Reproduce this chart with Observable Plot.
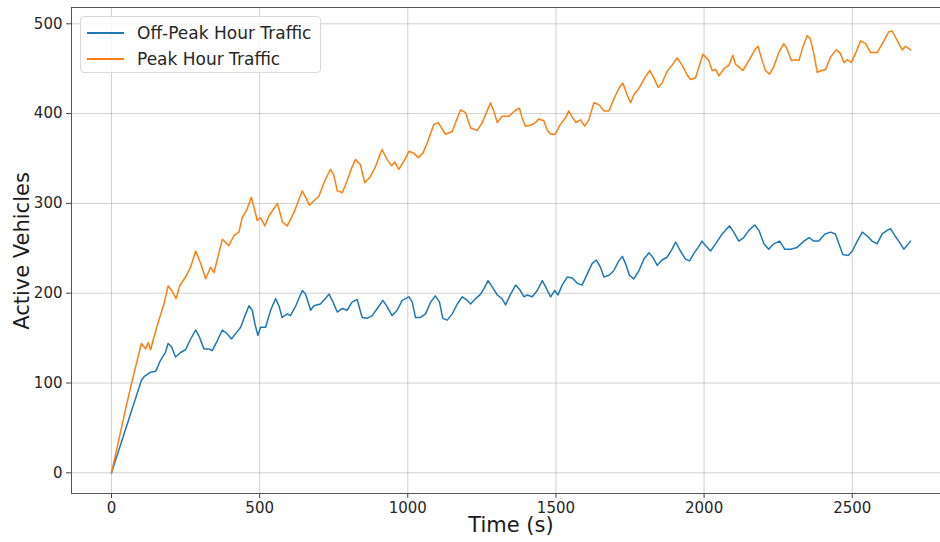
<!DOCTYPE html>
<html><head><meta charset="utf-8">
<script src="https://cdn.jsdelivr.net/npm/d3@7"></script>
<script src="https://cdn.jsdelivr.net/npm/@observablehq/plot@0.6"></script>
<style>
html,body{margin:0;padding:0;background:#fff;overflow:hidden;width:940px;height:542px}
#wrap{position:relative;width:940px;height:542px;overflow:hidden}
#wrap svg{position:absolute;left:0;top:0;max-width:none !important}
.legend{position:absolute;left:80px;top:16px;width:241px;height:57px;border:1px solid #d9d9d9;border-radius:4px;background:rgba(255,255,255,0.8);font-family:"DejaVu Sans";font-size:17px;color:#262626;box-sizing:border-box}
.legend .row{position:absolute;left:0;height:20px;width:100%}
.legend .sw{position:absolute;left:6px;width:37px;height:2px}
.legend .lb{position:absolute;left:56px;white-space:nowrap;line-height:20px;top:0}
</style></head><body><div id="wrap"></div>
<script>
// Series names
const seriesNames = ["Off-Peak Hour Traffic", "Peak Hour Traffic"];
const seriesColors = ["#1f77b4", "#ff7f0e"];

// Tick values
const xTicks = [0, 500, 1000, 1500, 2000, 2500];
const yTicks = [0, 100, 200, 300, 400, 500];

// Off-Peak Hour Traffic (time in s, active vehicles)
const offT = [0,101,110,132,149,165,182,191,203,216,233,250,267,284,297,312,329,340,357,374,390,405,419,436,453,464,475,484,494,503,520,537,554,565,576,593,604,622,644,
  655,672,683,705,722,734,745,762,779,795,812,829,846,863,880,897,916,930,947,964,981,1004,1015,1026,1043,1060,1077,1093,1107,1118,1133,1150,1167,1184,1201,1212,1229,1246,1257,1271,1285,1302,1318,1330,
  1347,1364,1380,1392,1403,1420,1437,1454,1465,1482,1496,1507,1521,1538,1555,1572,1588,1605,1622,1636,1650,1662,1679,1695,1712,1724,1735,1748,1763,1780,1797,1814,1827,1842,1858,1875,1892,1904,1920,1937,1951,1965,1980,1993,
  2005,2022,2039,2061,2086,2100,2117,2134,2151,2171,2185,2202,2218,2235,2255,2272,2292,2314,2337,2354,2370,2387,2408,2427,2443,2455,2468,2486,2500,2517,2534,2550,2567,2584,2601,2618,2629,2644,2657,2674,2685,2697];
const offV = [0,103,107,112,113,125,134,144,140,129,134,137,149,159,151,138,138,136,147,159,155,149,155,162,177,186,181,166,153,162,162,181,194,186,173,177,175,186,203,
  199,181,186,188,194,199,192,179,183,181,190,193,173,172,175,183,192,185,175,181,192,196,190,173,173,177,190,197,190,172,170,177,188,196,192,188,194,199,205,214,207,198,194,187,
  199,209,203,196,198,196,203,214,207,196,203,198,209,218,217,211,209,221,233,237,229,218,220,225,236,241,233,220,216,225,238,245,240,231,237,240,249,257,247,238,236,244,251,258,
  253,247,255,266,275,268,258,262,270,276,270,255,249,255,258,249,249,251,258,262,258,258,266,268,266,255,243,242,247,258,268,264,258,255,266,270,272,264,258,249,253,258];

// Peak Hour Traffic (time in s, active vehicles)
const peakT = [0,47,70,101,115,124,132,143,160,177,191,203,218,230,250,267,284,300,318,334,346,374,396,413,430,441,458,472,492,503,518,531,560,577,593,616,631,644,
  668,683,700,717,739,750,762,779,795,810,824,840,855,874,891,913,930,945,956,970,987,1004,1020,1035,1051,1065,1088,1103,1110,1127,1150,1167,1178,1195,1212,1234,1251,1268,1279,1290,1302,1318,1341,
  1364,1377,1386,1397,1414,1431,1442,1459,1470,1482,1498,1515,1532,1543,1555,1568,1583,1597,1611,1628,1645,1662,1679,1695,1712,1726,1740,1752,1763,1780,1802,1817,1830,1845,1858,1875,1892,1909,1926,1943,1954,1971,1982,1996,
  2016,2027,2039,2050,2067,2084,2097,2106,2117,2131,2151,2173,2182,2196,2207,2221,2235,2252,2269,2280,2295,2309,2320,2333,2348,2359,2370,2382,2396,2410,2427,2446,2460,2472,2483,2497,2511,2528,2545,2562,2584,2607,2623,2635,2646,2657,2669,2680,2697];
const peakV = [0,70,103,144,138,145,137,151,170,188,208,203,194,208,218,229,247,234,216,229,223,260,253,264,268,284,294,307,281,284,275,286,300,279,275,290,303,314,
  298,303,308,323,338,332,314,312,325,339,349,343,323,330,341,360,349,342,346,338,347,358,356,351,356,367,388,390,386,377,380,395,404,401,384,381,390,403,412,403,390,397,397,
  404,406,395,386,387,390,394,392,382,377,377,388,395,403,396,390,393,386,393,412,410,403,403,416,428,434,421,412,421,428,441,448,440,429,434,447,454,462,454,443,438,440,451,466,
  459,448,449,442,450,454,465,455,452,448,459,472,475,459,448,444,452,468,478,472,459,460,459,474,487,483,467,446,448,449,463,471,467,457,460,457,467,481,478,468,468,481,491,492,485,478,471,475,471];

const offData = offT.map((t, i) => ({t, v: offV[i]}));
const peakData = peakT.map((t, i) => ({t, v: peakV[i]}));

const W = 952, H = 542, mL = 71, mR = 1, mT = 7, mB = 49;

const chart = Plot.plot({
  width: W, height: H,
  marginLeft: mL, marginRight: mR, marginTop: mT, marginBottom: mB,
  style: {fontFamily: "DejaVu Sans", fontSize: "15px", color: "#262626", background: "#fff", overflow: "visible", maxWidth: "none"},
  x: {domain: [-135, 2835]},
  y: {domain: [-23.05, 518.15]},
  marks: [
    Plot.gridX(xTicks, {stroke: "#b0b0b0", strokeOpacity: 0.6, strokeWidth: 1}),
    Plot.gridY(yTicks, {stroke: "#b0b0b0", strokeOpacity: 0.6, strokeWidth: 1}),
    Plot.line(offData, {x: "t", y: "v", stroke: seriesColors[0], strokeWidth: 1.5}),
    Plot.line(peakData, {x: "t", y: "v", stroke: seriesColors[1], strokeWidth: 1.5}),
    Plot.axisX(xTicks, {tickSize: 5, tickPadding: 3.5, label: null, fontSize: 15, stroke: "#444", tickFormat: d => String(d)}),
    Plot.axisY(yTicks, {tickSize: 5, tickPadding: 4, label: null, fontSize: 15, stroke: "#444", tickFormat: d => String(d)}),
    Plot.frame({stroke: "#555", strokeWidth: 1})
  ]
});
chart.style.maxWidth = "none";
chart.style.width = W + "px";
chart.style.height = H + "px";

const svg = d3.select(chart);
svg.append("text")
  .attr("transform", "translate(29,251) rotate(-90)")
  .attr("text-anchor", "middle")
  .attr("font-family", "DejaVu Sans").attr("font-size", 21).attr("fill", "#1a1a1a")
  .text("Active Vehicles");
svg.append("text")
  .attr("x", (mL + W - mR) / 2).attr("y", 532)
  .attr("text-anchor", "middle")
  .attr("font-family", "DejaVu Sans").attr("font-size", 21).attr("fill", "#1a1a1a")
  .text("Time (s)");

const wrap = document.getElementById("wrap");
wrap.appendChild(chart);

// Legend
const lg = document.createElement("div");
lg.className = "legend";
seriesNames.forEach((name, i) => {
  const row = document.createElement("div");
  row.className = "row";
  row.style.top = (6 + i * 26) + "px";
  const sw = document.createElement("div");
  sw.className = "sw";
  sw.style.top = "9px";
  sw.style.background = seriesColors[i];
  const lb = document.createElement("div");
  lb.className = "lb";
  lb.textContent = name;
  row.appendChild(sw); row.appendChild(lb);
  lg.appendChild(row);
});
wrap.appendChild(lg);
</script>
</body></html>
